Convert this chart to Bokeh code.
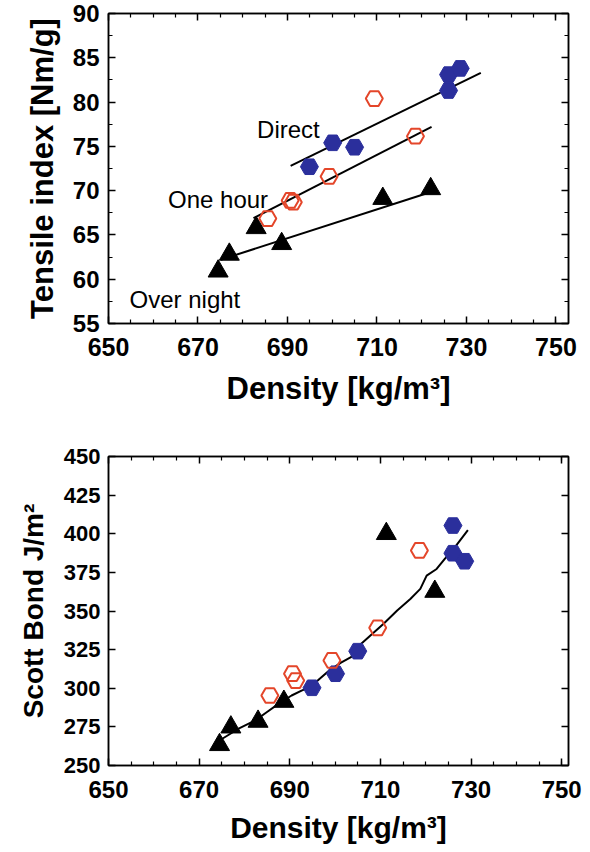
from bokeh.plotting import figure
from bokeh.layouts import column
from bokeh.models import Range1d, LinearAxis, FixedTicker
from bokeh.core.properties import value
from bokeh.embed import file_html
from bokeh.resources import INLINE

# ---------------- data ----------------
direct_density = [694.9, 700.1, 705.0, 726.0, 726.0, 728.6]
direct_tensile = [72.7, 75.4, 74.9, 81.3, 83.1, 83.8]
direct_scott = [300.3, 309.4, 324.0, 387.4, 405.3, 382.2]

onehour_density = [685.6, 690.6, 691.3, 699.3, 709.4, 718.6]
onehour_tensile = [66.85, 68.9, 68.7, 71.6, 80.4, 76.15]
onehour_scott = [295.3, 309.4, 305.0, 318.0, 339.1, 389.2]

overnight_density = [674.5, 677.0, 683.0, 688.7, 711.3, 722.0]
overnight_tensile = [60.9, 62.8, 65.8, 64.0, 69.1, 70.2]
overnight_scott = [263.4, 274.8, 278.5, 291.4, 400.0, 362.6]

direct_fit_density = [690.7, 733.2]
direct_fit_tensile = [72.8, 83.3]
onehour_fit_density = [682.4, 722.2]
onehour_fit_tensile = [66.9, 77.2]
overnight_fit_density = [675.1, 722.4]
overnight_fit_tensile = [62.2, 69.9]

scott_curve_density = [675.1, 678.7, 682.4, 684.9, 687.5, 690.4, 692.6, 694.7, 696.6,
                       698.7, 701.3, 703.5, 704.9, 707.8, 710.7, 713.7, 716.6, 718.8,
                       720.2, 722.4, 724.2, 726.4, 729.3]
scott_curve_value = [267.3, 273.8, 279.2, 284.5, 289.9, 295.3, 298.5, 301.1, 306.1,
                     311.5, 316.6, 320.1, 326.5, 334.1, 341.7, 350.3, 357.8, 364.3,
                     372.9, 377.2, 383.7, 391.2, 402.4]

label_text = ["Direct", "One hour", "Over night"]
label_density = [683.2, 663.3, 654.7]
label_tensile = [76.9, 69.0, 57.7]

density_ticks = [650, 670, 690, 710, 730, 750]
density_minor = [655, 660, 665, 675, 680, 685, 695, 700, 705, 715, 720, 725, 735, 740, 745, 750]
tensile_ticks = [55, 60, 65, 70, 75, 80, 85, 90]
tensile_minor = [57.5, 62.5, 67.5, 72.5, 77.5, 82.5, 87.5]
scott_ticks = [250, 275, 300, 325, 350, 375, 400, 425, 450]

BLUE = "#2b2f9c"
RED = "#e4462a"
FONT = "Liberation Sans"


def style_axis(ax, size):
    ax.axis_line_width = 1.5
    ax.axis_line_color = "black"
    ax.major_tick_in = 7
    ax.major_tick_out = 0
    ax.minor_tick_in = 4
    ax.minor_tick_out = 0
    ax.major_tick_line_width = 1.5
    ax.minor_tick_line_width = 1.2
    ax.major_tick_line_color = "black"
    ax.minor_tick_line_color = "black"
    ax.major_label_text_font = FONT
    ax.major_label_text_font_style = "bold"
    ax.major_label_text_font_size = size
    ax.major_label_text_color = "black"
    ax.axis_label_text_font = FONT
    ax.axis_label_text_font_style = "bold"
    ax.axis_label_text_color = "black"


def mirror(p, xt, xm, yt, ym):
    top = LinearAxis(ticker=FixedTicker(ticks=xt, minor_ticks=xm),
                     major_label_overrides={t: "" for t in xt})
    right = LinearAxis(ticker=FixedTicker(ticks=yt, minor_ticks=ym),
                       major_label_overrides={t: "" for t in yt})
    for a in (top, right):
        style_axis(a, "10px")
        a.major_label_standoff = 0
    p.add_layout(top, "above")
    p.add_layout(right, "right")


# ---------------- top: tensile index ----------------
p1 = figure(width=590, height=430, output_backend="svg", toolbar_location=None,
            x_range=Range1d(650, 752.8), y_range=Range1d(55, 90),
            min_border_left=100, min_border_right=22, min_border_top=13, min_border_bottom=107,
            x_axis_label="Density [kg/m³]", y_axis_label="Tensile index [Nm/g]")
p1.grid.visible = False
p1.outline_line_color = "black"
p1.outline_line_width = 1.5
p1.xaxis.ticker = FixedTicker(ticks=density_ticks, minor_ticks=density_minor)
p1.yaxis.ticker = FixedTicker(ticks=tensile_ticks, minor_ticks=tensile_minor)
style_axis(p1.xaxis[0], "25px")
style_axis(p1.yaxis[0], "24px")
p1.xaxis.major_label_standoff = 14
p1.xaxis.axis_label_standoff = 12
p1.xaxis.axis_label_text_font_size = "31px"
p1.yaxis.major_label_standoff = 9
p1.yaxis.axis_label_standoff = 10
p1.yaxis.axis_label_text_font_size = "31px"
mirror(p1, density_ticks, density_minor, tensile_ticks, tensile_minor)

p1.line(direct_fit_density, direct_fit_tensile, line_color="black", line_width=2)
p1.line(onehour_fit_density, onehour_fit_tensile, line_color="black", line_width=2)
p1.line(overnight_fit_density, overnight_fit_tensile, line_color="black", line_width=2)
p1.scatter(direct_density, direct_tensile, marker="hex", size=18,
           fill_color=BLUE, line_color=BLUE)
p1.scatter(onehour_density, onehour_tensile, marker="hex", size=17,
           fill_color=None, line_color=RED, line_width=2)
p1.scatter(overnight_density, overnight_tensile, marker="triangle", size=20,
           fill_color="black", line_color="black")
p1.text(label_density, label_tensile, text=label_text, text_font=value(FONT),
        text_font_size="24px", text_baseline="middle", text_align="left", text_color="black")

# ---------------- bottom: Scott bond ----------------
p2 = figure(width=590, height=422, output_backend="svg", toolbar_location=None,
            x_range=Range1d(650, 751.5), y_range=Range1d(250, 450),
            min_border_left=108, min_border_right=20, min_border_top=26, min_border_bottom=87,
            x_axis_label="Density [kg/m³]", y_axis_label="Scott Bond J/m²")
p2.grid.visible = False
p2.outline_line_color = "black"
p2.outline_line_width = 1.5
p2.xaxis.ticker = FixedTicker(ticks=density_ticks, minor_ticks=density_minor)
p2.yaxis.ticker = FixedTicker(ticks=scott_ticks, minor_ticks=[])
style_axis(p2.xaxis[0], "24px")
style_axis(p2.yaxis[0], "22px")
p2.xaxis.major_label_standoff = 15
p2.xaxis.axis_label_standoff = 10
p2.xaxis.axis_label_text_font_size = "30px"
p2.yaxis.major_label_standoff = 8
p2.yaxis.axis_label_standoff = 12
p2.yaxis.axis_label_text_font_size = "28px"
mirror(p2, density_ticks, density_minor, scott_ticks, [])

p2.line(scott_curve_density, scott_curve_value, line_color="black", line_width=2)
p2.scatter(direct_density, direct_scott, marker="hex", size=18,
           fill_color=BLUE, line_color=BLUE)
p2.scatter(onehour_density, onehour_scott, marker="hex", size=17,
           fill_color=None, line_color=RED, line_width=2)
p2.scatter(overnight_density, overnight_scott, marker="triangle", size=20,
           fill_color="black", line_color="black")

layout = column(p1, p2, spacing=0)
open("out.html", "w").write(file_html(layout, INLINE))
